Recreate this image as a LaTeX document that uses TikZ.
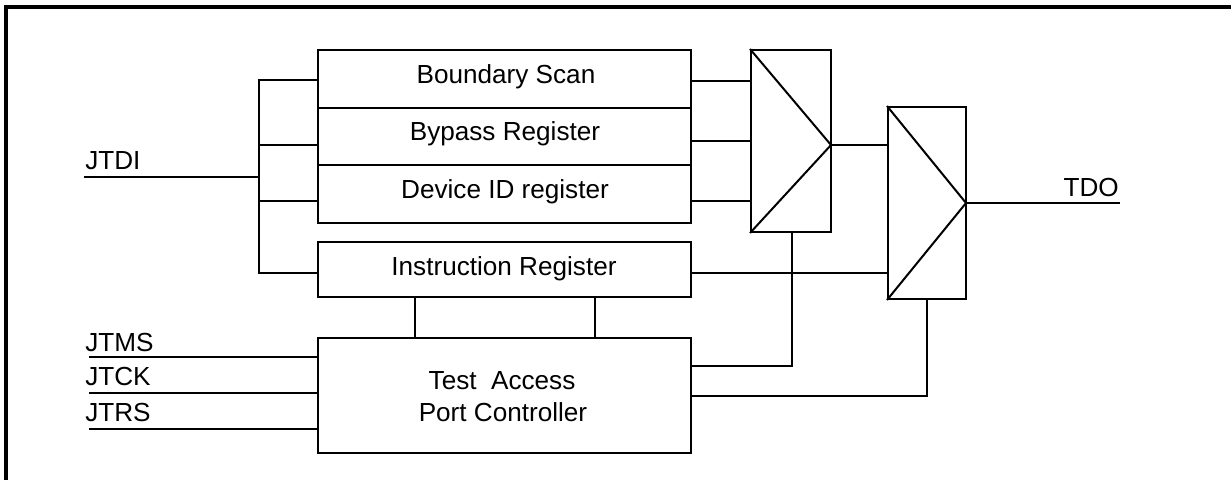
\documentclass[tikz,border=0pt]{standalone}
\usepackage{fontspec}
\setmainfont{Liberation Sans}
\begin{document}
\def\u{0.75pt}
\begin{tikzpicture}[x=0.75pt,y=-0.75pt,
  wire/.style={line width=1.5pt, line cap=rect},
  box/.style={draw, line width=1.5pt, inner sep=0pt},
  lbl/.style={inner sep=0pt, anchor=base, font=\fontsize{19.6pt}{23pt}\selectfont},
  frame/.style={line width=2.3pt}]
\useasboundingbox (0,0) rectangle (1231,480);
% frame
\coordinate (ftl) at (6,7);
\coordinate (ftr) at (1231,7);
\coordinate (fbl) at (6,480);
\draw[frame] (ftr) -- (ftl) -- (fbl);

% register boxes
\node[box, minimum width=373*\u, minimum height=58*\u] (bs) at (504.5,79) {};
\node[box, minimum width=373*\u, minimum height=57*\u] (bp) at (504.5,136.5) {};
\node[box, minimum width=373*\u, minimum height=58*\u] (di) at (504.5,194) {};
\node[box, minimum width=373*\u, minimum height=55*\u] (ir) at (504.5,269) {};
\node[box, minimum width=373*\u, minimum height=115*\u] (tap) at (504.5,395.5) {};

\node[lbl] (bst) at (506,83) {Boundary Scan};
\node[lbl] (bpt) at (505,140) {Bypass Register};
\node[lbl] (dit) at (505,198) {Device ID register};
\node[lbl] (irt) at (504,275) {Instruction Register};
\node[lbl] (tapt1) at (502,389) {Test\ \ Access};
\node[lbl] (tapt2) at (503,421) {Port Controller};

% muxes
\node[box, minimum width=80*\u, minimum height=182*\u] (m1) at (791,141) {};
\node[box, minimum width=78*\u, minimum height=192*\u] (m2) at (927,203) {};
\coordinate (a1) at (831,145);
\coordinate (a2) at (966,203);
\draw[wire, line cap=butt] (m1.north west) -- (a1) -- (m1.south west);
\draw[wire, line cap=butt] (m2.north west) -- (a2) -- (m2.south west);

% JTDI bus
\coordinate (jtdi) at (85,177);
\coordinate (bus) at (259,177);
\coordinate (j1) at (259,80);
\coordinate (j2) at (259,145);
\coordinate (j3) at (259,201);
\coordinate (j4) at (259,273);
\draw[wire] (jtdi) -- (bus);
\draw[wire] (j1) -- (j4);
\draw[wire] (j1) -- (j1 -| bs.west);
\draw[wire] (j2) -- (j2 -| bp.west);
\draw[wire] (j3) -- (j3 -| di.west);
\draw[wire] (j4) -- (j4 -| ir.west);
\node[lbl, anchor=base west] (jtdit) at (85,169) {JTDI};

% register outputs to mux1
\coordinate (o1) at (691,81);
\coordinate (o2) at (691,141);
\coordinate (o3) at (691,201);
\draw[wire] (o1) -- (o1 -| m1.west);
\draw[wire] (o2) -- (o2 -| m1.west);
\draw[wire] (o3) -- (o3 -| m1.west);

% mux1 -> mux2, IR -> mux2, mux2 -> TDO
\draw[wire] (a1) -- (a1 -| m2.west);
\coordinate (iro) at (691,273);
\draw[wire] (iro) -- (iro -| m2.west);
\coordinate (tdo) at (1119,203);
\draw[wire] (a2) -- (tdo);
\node[lbl, anchor=base east] (tdot) at (1119,196) {TDO};

% IR <-> TAP
\coordinate (v1) at (415,297);
\coordinate (v2) at (595,297);
\draw[wire] (v1) -- (v1 |- tap.north);
\draw[wire] (v2) -- (v2 |- tap.north);

% select lines
\coordinate (s1) at (792,366);
\coordinate (s2) at (927,396);
\draw[wire] (s1 |- m1.south) -- (s1) -- (s1 -| tap.east);
\draw[wire] (s2 |- m2.south) -- (s2) -- (s2 -| tap.east);

% JTAG inputs
\coordinate (ms) at (90,357);
\coordinate (ck) at (90,393);
\coordinate (rs) at (90,429);
\draw[wire] (ms) -- (ms -| tap.west);
\draw[wire] (ck) -- (ck -| tap.west);
\draw[wire] (rs) -- (rs -| tap.west);
\node[lbl, anchor=base west] (mst) at (85,351) {JTMS};
\node[lbl, anchor=base west] (ckt) at (85,385) {JTCK};
\node[lbl, anchor=base west] (rst) at (85,421) {JTRS};
\end{tikzpicture}
\end{document}
